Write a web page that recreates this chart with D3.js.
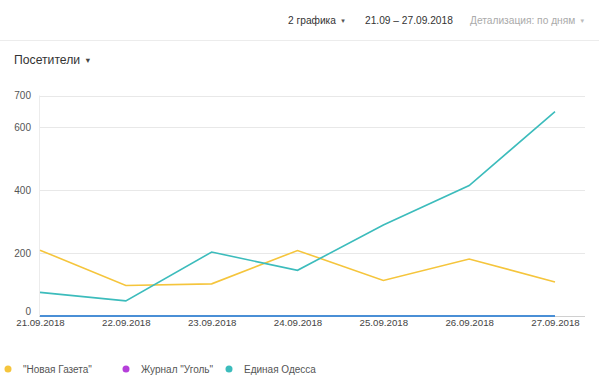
<!DOCTYPE html>
<html><head><meta charset="utf-8">
<script src="https://cdn.jsdelivr.net/npm/d3@7"></script>
<style>
body{margin:0;background:#fff;font-family:"Liberation Sans",Arial,sans-serif;}
svg{display:block}
</style></head>
<body>
<svg id="c" width="599" height="382"></svg>
<script>
const dates = ["21.09.2018","22.09.2018","23.09.2018","24.09.2018","25.09.2018","26.09.2018","27.09.2018"];
const novayaGazeta = [209, 97, 102, 208, 113, 181, 108];
const zhurnalUgol = [0, 0, 0, 0, 0, 0, 0];
const edinayaOdessa = [75, 48, 203, 145, 289, 414, 649];
const yTicks = [0, 200, 400, 600, 700];
const seriesNames = ["\"Новая Газета\"", "Журнал \"Уголь\"", "Единая Одесса"];
const seriesColors = ["#f5c53c", "#b53fda", "#3cbcbc"];

const svg = d3.select("#c");
const pLeft = 39, pRight = 585, pTop = 95.5, pBottom = 316;
const x = d3.scalePoint().domain(dates).range([40, 555]);
const y = d3.scaleLinear().domain([0, 700]).range([pBottom, pTop]);

function withArrow(sel, txt, fill, arrowFill) {
  sel.append("tspan").attr("fill", fill).text(txt);
  sel.append("tspan").attr("fill", arrowFill).attr("font-size", "0.6em").attr("dx", 4).attr("dy", -1).text("▼");
}

// header
const hdr = svg.append("g").attr("font-size", 10.2);
withArrow(hdr.append("text").attr("x", 288).attr("y", 24), "2 графика", "#333", "#555");
hdr.append("text").attr("x", 365).attr("y", 24).attr("fill", "#333").text("21.09 – 27.09.2018");
withArrow(hdr.append("text").attr("x", 470).attr("y", 24), "Детализация: по дням", "#aaa", "#bbb");
svg.append("line").attr("x1", 0).attr("x2", 599).attr("y1", 40.5).attr("y2", 40.5).attr("stroke", "#ececec");
withArrow(svg.append("text").attr("x", 14).attr("y", 64).attr("font-size", 12.2), "Посетители", "#333", "#444");

// grid
svg.append("g").selectAll("line").data(yTicks.filter(d => d > 0)).join("line")
  .attr("x1", pLeft).attr("x2", pRight)
  .attr("y1", d => Math.round(y(d)) + 0.5).attr("y2", d => Math.round(y(d)) + 0.5)
  .attr("stroke", "#e8e8e8");
svg.append("line").attr("x1", pLeft + 0.5).attr("x2", pLeft + 0.5).attr("y1", pTop).attr("y2", pBottom).attr("stroke", "#ececec");

// y axis labels
const yAxis = d3.axisLeft(y).tickValues(yTicks).tickSize(0).tickPadding(0);
const ya = svg.append("g").attr("transform", `translate(31,0)`).call(yAxis);
ya.select(".domain").remove();
ya.selectAll("text").attr("font-size", 10).attr("fill", "#555").attr("font-family", "Liberation Sans, Arial, sans-serif");
ya.selectAll(".tick").filter(d => d === 0).select("text").attr("dy", "-0.2em");

// x axis
svg.append("line").attr("x1", pLeft).attr("x2", pRight).attr("y1", pBottom + 0.5).attr("y2", pBottom + 0.5).attr("stroke", "#d0d0d0");
const xAxis = d3.axisBottom(x).tickSize(0).tickPadding(3.5);
const xa = svg.append("g").attr("transform", `translate(0,${pBottom})`).call(xAxis);
xa.select(".domain").remove();
xa.selectAll("text").attr("font-size", 9.7).attr("fill", "#444").attr("font-family", "Liberation Sans, Arial, sans-serif");

// lines
const line = d3.line().x((d, i) => x(dates[i])).y(d => y(d));
svg.append("path").datum(novayaGazeta).attr("d", line).attr("fill", "none").attr("stroke", seriesColors[0]).attr("stroke-width", 1.6);
svg.append("path").datum(edinayaOdessa).attr("d", line).attr("fill", "none").attr("stroke", seriesColors[2]).attr("stroke-width", 1.6);
svg.append("path").datum(zhurnalUgol).attr("d", line).attr("fill", "none").attr("stroke", "#4a8fd6").attr("stroke-width", 2);

// legend
const lgX = [8, 126, 229];
const lg = svg.append("g");
seriesNames.forEach((n, i) => {
  lg.append("circle").attr("cx", lgX[i]).attr("cy", 369).attr("r", 3.5).attr("fill", seriesColors[i]);
  lg.append("text").attr("x", lgX[i] + 15).attr("y", 372.5).attr("font-size", 10).attr("fill", "#555").text(n);
});
</script>
</body></html>
